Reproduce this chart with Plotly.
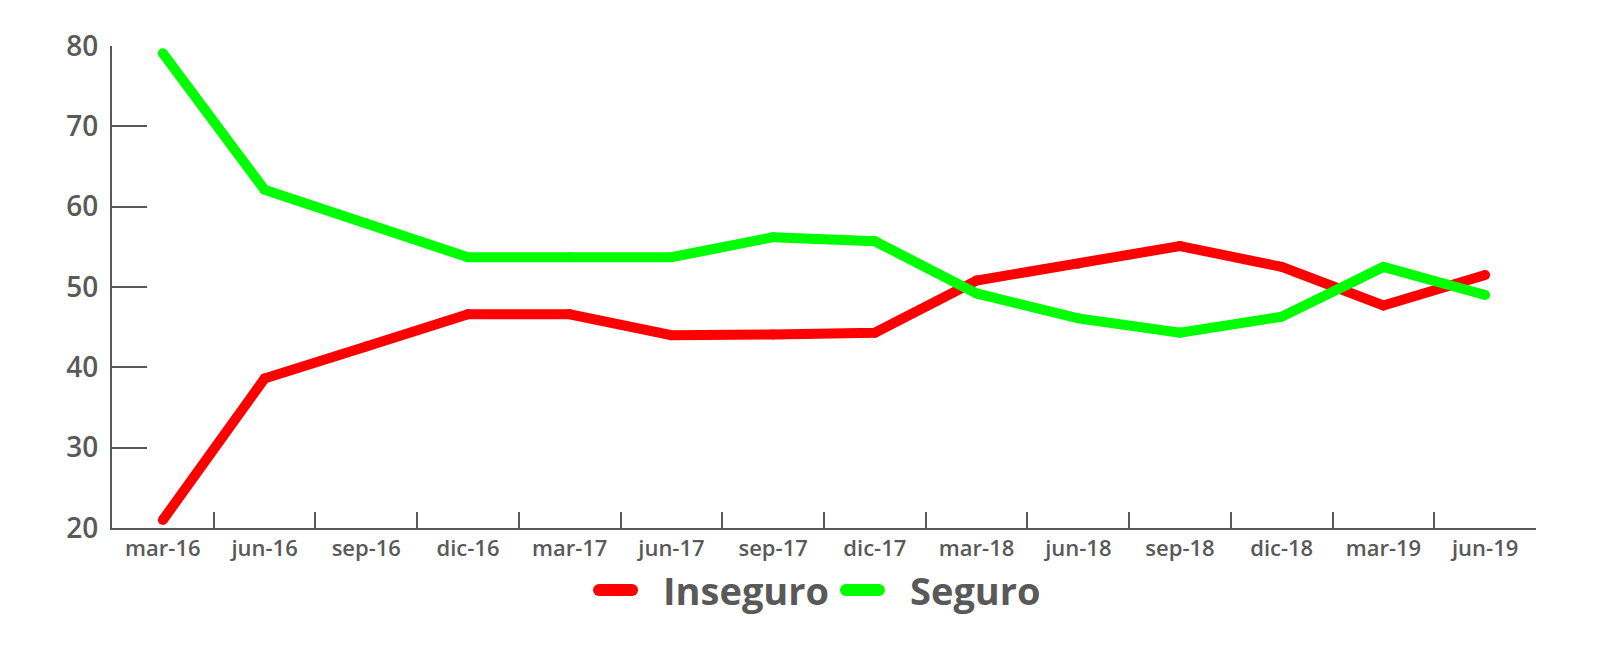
import plotly.graph_objects as go

categories = ["mar-16", "jun-16", "sep-16", "dic-16", "mar-17", "jun-17", "sep-17",
              "dic-17", "mar-18", "jun-18", "sep-18", "dic-18", "mar-19", "jun-19"]
inseguro = [21.0, 38.6, 42.6, 46.6, 46.6, 44.0, 44.1, 44.3, 50.8, 52.9, 55.1, 52.5, 47.7, 51.5]
seguro = [79.1, 62.1, 57.9, 53.7, 53.7, 53.7, 56.2, 55.7, 49.2, 46.1, 44.3, 46.3, 52.5, 49.0]
series_names = ["Inseguro", "Seguro"]

RED = "#FF0000"
GREEN = "#00FF00"
GRAY = "#595959"
FONT = "Open Sans"
LW = 10

fig = go.Figure()
series = [(series_names[0], inseguro, RED), (series_names[1], seguro, GREEN)]
for name, vals, col in series:
    fig.add_trace(go.Scatter(x=categories, y=vals, name=name, mode="lines",
                             line=dict(color=col, width=LW), hoverinfo="skip",
                             showlegend=False))
for name, vals, col in series:
    fig.add_trace(go.Scatter(x=categories, y=vals, mode="markers", showlegend=False,
                             marker=dict(color=col, size=LW, line=dict(width=0)),
                             hoverinfo="skip"))

# custom legend (swatch with round ends + text with a gap), in paper coordinates
legend_y = -0.1286
legend_items = [(series_names[0], RED, 0.3378, 0.3694, 0.3855),
                (series_names[1], GREEN, 0.5112, 0.5428, 0.5590)]
shapes = []
annotations = []
for name, col, xs0, xs1, xt in legend_items:
    shapes.append(dict(type="line", xref="paper", yref="paper",
                       x0=xs0 + 0.0042, x1=xs1 - 0.0042, y0=legend_y, y1=legend_y,
                       line=dict(color=col, width=12)))
    for xc in (xs0 + 0.0042, xs1 - 0.0042):
        shapes.append(dict(type="circle", xref="paper", yref="paper",
                           xsizemode="pixel", ysizemode="pixel",
                           xanchor=xc, yanchor=legend_y,
                           x0=-6, x1=6, y0=-6, y1=6,
                           fillcolor=col, line=dict(width=0)))
    annotations.append(dict(text=name, xref="paper", yref="paper", x=xt, y=legend_y,
                            xanchor="left", yanchor="middle", showarrow=False,
                            font=dict(size=38, color=GRAY, family=FONT, weight=700)))

fig.update_layout(
    width=1584, height=632,
    margin=dict(l=104, r=56, t=38, b=112),
    paper_bgcolor="white", plot_bgcolor="white",
    font=dict(family=FONT, color=GRAY),
    showlegend=False,
    shapes=shapes,
    annotations=annotations,
    xaxis=dict(type="category", showgrid=False, zeroline=False,
               showline=True, linecolor=GRAY, linewidth=2,
               ticks="inside", ticklen=16, tickwidth=2, tickcolor=GRAY,
               tickson="boundaries",
               tickfont=dict(size=22, color=GRAY, family=FONT, weight=600),
               range=[-0.5, 13.5]),
    yaxis=dict(range=[20, 80], dtick=10, showgrid=False, zeroline=False,
               showline=True, linecolor=GRAY, linewidth=2,
               ticks="inside", ticklen=35, tickwidth=2, tickcolor=GRAY,
               ticklabelstandoff=6,
               tickfont=dict(size=28, color=GRAY, family=FONT, weight=600)),
)

fig.write_html("out.html")
